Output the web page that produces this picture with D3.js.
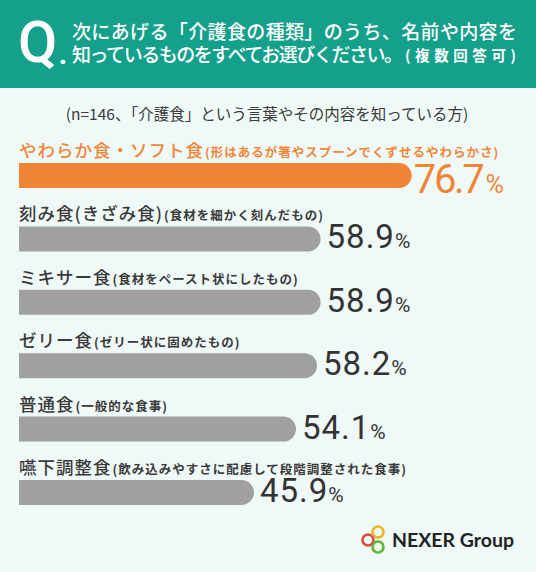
<!DOCTYPE html>
<html><head><meta charset="utf-8">
<script src="https://cdn.jsdelivr.net/npm/d3@7"></script>
<style>
html,body{margin:0;padding:0;background:#effaf8;}
svg{display:block;}
</style></head>
<body>
<svg id="chart" width="536" height="572"></svg>
<script>
const titleLine1 = "次にあげる「介護食の種類」のうち、名前や内容を";
const titleLine2 = "知っているものをすべてお選びください。";
const titleNote = "(複数回答可)";
const subtitle = "(n=146、「介護食」という言葉やその内容を知っている方)";
const categories = ["やわらか食・ソフト食", "刻み食(きざみ食)", "ミキサー食", "ゼリー食", "普通食", "嚥下調整食"];
const notes = ["(形はあるが箸やスプーンでくずせるやわらかさ)", "(食材を細かく刻んだもの)", "(食材をペースト状にしたもの)", "(ゼリー状に固めたもの)", "(一般的な食事)", "(飲み込みやすさに配慮して段階調整された食事)"];
const values = [76.7, 58.9, 58.9, 58.2, 54.1, 45.9];
const highlight = [true, false, false, false, false, false];

const svg = d3.select("#chart");
const W = 536, H = 572;
const ORANGE = "#f08537", GRAY = "#a0a0a3", TEAL = "#14a08a", DARK = "#3a3a3a";
const JP = "'Noto Sans CJK JP', 'Noto Sans', sans-serif";
const NUM = "Roboto, 'Noto Sans', sans-serif";

svg.append("rect").attr("width", W).attr("height", H).attr("fill", "#effaf8");
svg.append("rect").attr("width", W).attr("height", 88).attr("fill", TEAL);

// Q.
svg.append("text").attr("x", 18).attr("y", 62)
  .attr("font-family", NUM).attr("font-weight", 500).attr("font-size", 57)
  .attr("fill", "#fff").text("Q");
svg.append("text").attr("x", 59).attr("y", 64)
  .attr("font-family", NUM).attr("font-weight", 900).attr("font-size", 26)
  .attr("fill", "#fff").text(".");

svg.append("text").attr("x", 72).attr("y", 39)
  .attr("font-family", JP).attr("font-weight", 500).attr("font-size", 19)
  .attr("fill", "#fff").attr("textLength", 445).attr("lengthAdjust", "spacing")
  .text(titleLine1);
svg.append("text").attr("x", 72).attr("y", 62)
  .attr("font-family", JP).attr("font-weight", 500).attr("font-size", 19)
  .attr("fill", "#fff").attr("textLength", 331).attr("lengthAdjust", "spacing")
  .text(titleLine2);
svg.append("text").attr("x", 405).attr("y", 61)
  .attr("font-family", JP).attr("font-weight", 700).attr("font-size", 14.5)
  .attr("fill", "#fff").attr("textLength", 111).attr("lengthAdjust", "spacing")
  .text(titleNote);

svg.append("text").attr("x", 267).attr("y", 120)
  .attr("text-anchor", "middle")
  .attr("font-family", JP).attr("font-weight", 400).attr("font-size", 15.5)
  .attr("fill", DARK)
  .text(subtitle);

const x = d3.scaleLinear().domain([0, 100]).range([19, 531]);
const y = d3.scalePoint().domain(d3.range(categories.length)).range([163, 480]);
const bh = 25;

function barPath(x0, x1, y0, h) {
  const r = h / 2;
  const p = d3.path();
  p.moveTo(x0, y0);
  p.lineTo(x1 - r, y0);
  p.arc(x1 - r, y0 + r, r, -Math.PI / 2, Math.PI / 2);
  p.lineTo(x0, y0 + h);
  p.closePath();
  return p.toString();
}

const g = svg.append("g");
const rows = g.selectAll("g.row").data(values.map((v, i) => ({v, i})))
  .join("g").attr("class", "row");

rows.append("path")
  .attr("d", d => barPath(x(0), x(d.v), y(d.i), bh))
  .attr("fill", d => highlight[d.i] ? ORANGE : GRAY);

const lab = rows.append("text")
  .attr("x", 19).attr("y", d => y(d.i) - 6)
  .attr("font-family", JP)
  .attr("fill", d => highlight[d.i] ? ORANGE : DARK);
lab.append("tspan")
  .attr("font-size", 17.5).attr("font-weight", 500).attr("letter-spacing", 1)
  .text(d => categories[d.i]);
lab.append("tspan")
  .attr("dx", 1)
  .attr("font-size", 12.5).attr("font-weight", 700).attr("letter-spacing", 1)
  .text(d => notes[d.i]);

const val = rows.append("text")
  .attr("x", d => x(d.v) + (highlight[d.i] ? 2 : 6))
  .attr("y", d => y(d.i) + bh + (highlight[d.i] ? 5 : -3))
  .attr("font-family", NUM).attr("font-weight", 400)
  .attr("fill", d => highlight[d.i] ? ORANGE : "#333");
val.append("tspan")
  .attr("font-size", d => highlight[d.i] ? 40 : 33)
  .attr("letter-spacing", d => highlight[d.i] ? -2.3 : 1)
  .text(d => d.v.toFixed(1));
val.append("tspan")
  .attr("dx", d => highlight[d.i] ? 3 : 0)
  .attr("letter-spacing", 0)
  .attr("font-size", d => highlight[d.i] ? 25 : 21)
  .text("%");

// logo
const logo = svg.append("g");
const rings = [
  {cx: 368, cy: 540, c: "#e2463b"},
  {cx: 378, cy: 532, c: "#f0b323"},
  {cx: 378, cy: 547, c: "#5db532"}
];
logo.selectAll("circle").data(rings).join("circle")
  .attr("cx", d => d.cx).attr("cy", d => d.cy).attr("r", 5.5)
  .attr("fill", "none").attr("stroke", d => d.c).attr("stroke-width", 2.6);
logo.append("text").attr("x", 392).attr("y", 547)
  .attr("font-family", "Lato, 'Noto Sans', sans-serif").attr("font-weight", 700)
  .attr("font-size", 19.5).attr("fill", "#222").text("NEXER Group");
</script>
</body></html>
